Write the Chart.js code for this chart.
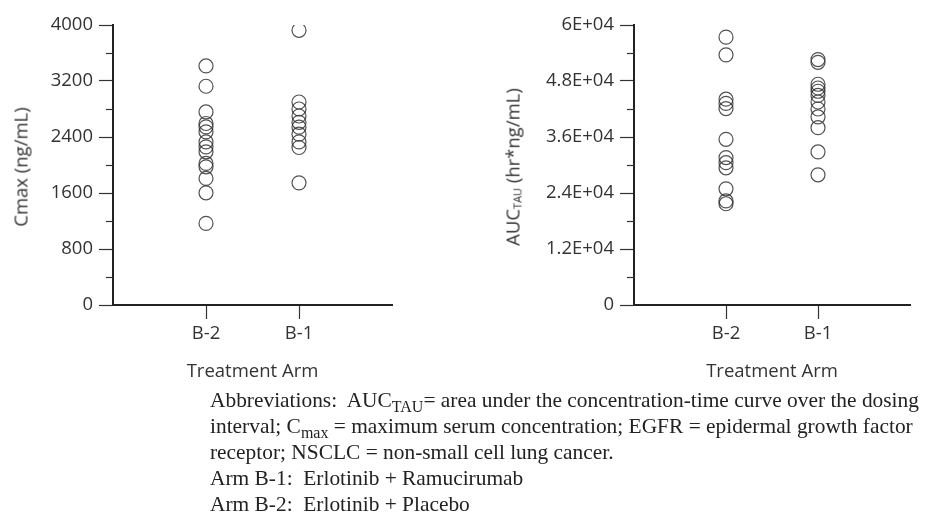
<!DOCTYPE html>
<html>
<head>
<meta charset="utf-8">
<script src="https://cdn.jsdelivr.net/npm/chart.js@4.4.1/dist/chart.umd.min.js"></script>
<style>
  html, body { margin: 0; padding: 0; background: #fff; }
  body { width: 926px; height: 521px; position: relative; overflow: hidden; font-family: "Open Sans", sans-serif; }
  canvas { position: absolute; top: 0; }
  #cmaxChart { left: 0; }
  #aucChart { left: 480px; }
  .ytitle { position: absolute; white-space: nowrap; transform: translate(-50%, -50%) rotate(-90deg); font-size: 18.5px; color: #333; }
  .ytitle sub { font-size: 11px; vertical-align: -2px; }
  .note { position: absolute; left: 210px; top: 387px; font-family: "Liberation Serif", "Times New Roman", serif; font-size: 21.4px; line-height: 26px; color: #222; white-space: nowrap; }
  .note sub { font-size: 16px; vertical-align: -5px; line-height: 0; }
</style>
</head>
<body>
<canvas id="cmaxChart" width="420" height="390" style="width:420px;height:390px"></canvas>
<canvas id="aucChart" width="446" height="390" style="width:446px;height:390px"></canvas>
<div class="ytitle" style="left:20px;top:167px">Cmax (ng/mL)</div>
<div class="ytitle" style="left:512px;top:167px">AUC<sub>TAU</sub> (hr*ng/mL)</div>
<div class="note">
  Abbreviations:&nbsp; AUC<sub>TAU</sub>= area under the concentration-time curve over the dosing<br>
  interval; C<sub>max</sub> = maximum serum concentration; EGFR = epidermal growth factor<br>
  receptor; NSCLC = non-small cell lung cancer.<br>
  Arm B-1:&nbsp; Erlotinib + Ramucirumab<br>
  Arm B-2:&nbsp; Erlotinib + Placebo
</div>
<script>
// Treatment arms and their slots on the x axis
const arms = ['B-2', 'B-1'];
const armSlots = [1, 2];

// Individual Cmax values (ng/mL)
const cmaxB2 = [3415, 3125, 2758, 2593, 2545, 2473, 2330, 2259, 2188, 2022, 1974, 1808, 1603, 1166];
const cmaxB1 = [3924, 2900, 2800, 2700, 2610, 2540, 2440, 2330, 2250, 1745];

// Individual AUC(tau) values (hr*ng/mL)
const aucB2 = [57400, 53600, 44100, 43200, 42100, 35500, 31600, 30500, 29400, 24900, 22300, 21700];
const aucB1 = [52600, 52000, 47300, 46500, 45800, 44900, 43500, 42000, 40300, 38000, 32800, 27900];

// Labelled y ticks
const cmaxTicks = [0, 800, 1600, 2400, 3200, 4000];
const cmaxTickLabels = ['0', '800', '1600', '2400', '3200', '4000'];
const aucTicks = [0, 12000, 24000, 36000, 48000, 60000];
const aucTickLabels = ['0', '1.2E+04', '2.4E+04', '3.6E+04', '4.8E+04', '6E+04'];

const INK = '#333';
const tickFont = { family: '"Open Sans", sans-serif', size: 18.5 };

function toPoints(slot, values) {
  return values.map(v => ({ x: slot, y: v }));
}

// Unlabelled half-step ticks between the labelled ones
function midTicks(ticks) {
  const out = [];
  for (let i = 0; i < ticks.length - 1; i++) out.push((ticks[i] + ticks[i + 1]) / 2);
  return out;
}

const minorTicks = {
  id: 'minorTicks',
  afterDraw(chart, args, opts) {
    const y = chart.scales.y;
    const ctx = chart.ctx;
    ctx.save();
    ctx.strokeStyle = INK;
    ctx.lineWidth = 1.2;
    opts.values.forEach(v => {
      const py = Math.round(y.getPixelForValue(v)) + 0.5;
      ctx.beginPath();
      ctx.moveTo(y.right - 7, py);
      ctx.lineTo(y.right, py);
      ctx.stroke();
    });
    ctx.restore();
  }
};

function makeChart(id, seriesB2, seriesB1, ticks, tickLabels, yAxisWidth, padRight) {
  const majors = ticks;
  const minors = midTicks(ticks);
  const all = majors.concat(minors).sort((a, b) => a - b);
  return new Chart(document.getElementById(id), {
    type: 'scatter',
    data: {
      datasets: [
        { data: toPoints(armSlots[0], seriesB2) },
        { data: toPoints(armSlots[1], seriesB1) }
      ]
    },
    options: {
      responsive: false,
      animation: false,
      layout: { padding: { top: 25, right: padRight, bottom: 0, left: 0 } },
      elements: {
        point: {
          pointStyle: 'circle',
          radius: 7,
          hoverRadius: 7,
          backgroundColor: 'rgba(0,0,0,0)',
          borderColor: 'rgba(50,50,50,0.85)',
          borderWidth: 1.2
        }
      },
      plugins: {
        legend: { display: false },
        tooltip: { enabled: false },
        minorTicks: { values: minors }
      },
      scales: {
        x: {
          type: 'linear',
          min: 0,
          max: 3,
          afterBuildTicks: s => { s.ticks = armSlots.map(v => ({ value: v })); },
          afterFit: s => { s.height = 85; },
          border: { display: true, color: '#222', width: 2 },
          grid: { drawOnChartArea: false, drawTicks: true, tickLength: 14, tickColor: INK, tickWidth: 1.2 },
          ticks: {
            padding: 4,
            color: INK,
            font: tickFont,
            maxRotation: 0,
            callback: v => arms[armSlots.indexOf(v)] ?? ''
          },
          title: {
            display: true,
            text: 'Treatment Arm',
            color: INK,
            font: tickFont,
            padding: { top: 0, bottom: 7 }
          }
        },
        y: {
          type: 'linear',
          min: ticks[0],
          max: ticks[ticks.length - 1],
          afterBuildTicks: s => { s.ticks = all.map(v => ({ value: v })); },
          afterFit: s => { s.width = yAxisWidth; },
          border: { display: true, color: '#222', width: 2 },
          grid: {
            drawOnChartArea: false,
            drawTicks: true,
            tickLength: 14,
            tickWidth: 1.2,
            tickColor: c => majors.includes(c.tick.value) ? INK : 'rgba(0,0,0,0)'
          },
          ticks: {
            padding: 6,
            color: INK,
            font: tickFont,
            autoSkip: false,
            callback: v => {
              const i = majors.indexOf(v);
              return i >= 0 ? tickLabels[i] : '';
            }
          }
        }
      }
    },
    plugins: [minorTicks]
  });
}

makeChart('cmaxChart', cmaxB2, cmaxB1, cmaxTicks, cmaxTickLabels, 113, 28);
makeChart('aucChart', aucB2, aucB1, aucTicks, aucTickLabels, 154, 16);
</script>
</body>
</html>
